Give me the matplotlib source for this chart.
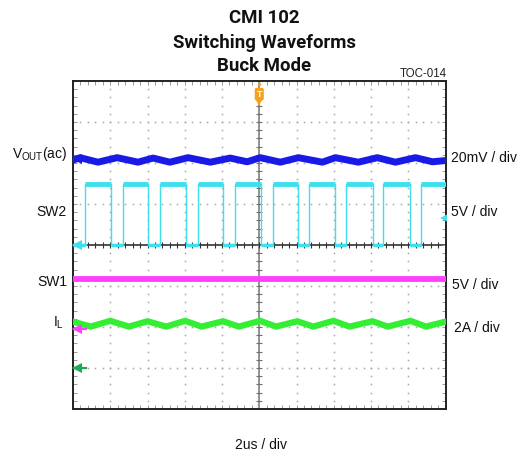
import matplotlib
matplotlib.use('Agg')
import matplotlib.pyplot as plt
import numpy as np

# scope screen: 10 div x 2us, 8 div vertical, trace values in screen divisions
t_end = 20.0

# SW2 (cyan) switching node, edge times in us
sw2_rise = [0.65, 2.69, 4.68, 6.72, 8.71, 10.75, 12.69, 14.68, 16.67, 18.71]
sw2_fall = [2.04, 4.03, 6.08, 8.06, 10.11, 12.10, 14.09, 16.13, 18.12]
sw2_high = 1.49
sw2_low = 0.0

# VOUT ripple (blue), peaks and troughs
vout_t = [0, 0.38, 1.34, 2.37, 3.49, 4.30, 5.20, 6.18, 7.37, 8.44, 9.35, 10.05,
          11.13, 12.10, 13.39, 14.09, 15.32, 16.34, 17.31, 18.39, 19.30, 20]
vout_v = [2.07, 2.13, 2.02, 2.13, 2.02, 2.12, 2.02, 2.13, 2.02, 2.12, 2.03, 2.13,
          2.02, 2.13, 2.02, 2.13, 2.02, 2.13, 2.02, 2.13, 2.03, 2.06]

# SW1 (magenta) flat
sw1_t = [0, 20]
sw1_v = [-0.83, -0.83]

# inductor current (green)
il_t = [0, 0.95, 2.00, 3.00, 4.00, 5.00, 6.02, 6.90, 8.06, 8.90, 10.05, 10.90,
        12.04, 12.90, 13.98, 14.85, 16.08, 16.90, 18.12, 18.95, 20]
il_v = [-1.87, -1.99, -1.85, -1.99, -1.86, -1.99, -1.85, -1.99, -1.86, -1.99, -1.85, -1.99,
        -1.86, -1.99, -1.85, -1.99, -1.86, -1.99, -1.85, -1.99, -1.87]

# channel ground markers (left edge)
gnd_levels = [2.1, 0.0, -2.05, -3.0]
gnd_colors = ['#1a1ae6', '#3ee0ee', '#ff40ff', '#1faa55']
trig_level = 0.66

left_labels = ['V$_{\\mathrm{OUT}}$(ac)', 'SW2', 'SW1', 'I$_{\\mathrm{L}}$']
right_labels = ['20mV / div', '5V / div', '5V / div', '2A / div']

plt.rcParams['font.family'] = ['Liberation Sans', 'DejaVu Sans']
plt.rcParams['mathtext.fontset'] = 'custom'
plt.rcParams['mathtext.rm'] = 'Liberation Sans'

W, H = 523, 458
fig = plt.figure(figsize=(W / 100, H / 100), dpi=100)
ax = fig.add_axes([73 / W, 1 - 409 / H, (445.5 - 73) / W, (409 - 81) / H])
ax.set_xlim(0, t_end)
ax.set_ylim(-4, 4)


def px(x, y):
    return x / W, 1 - y / H


# graticule
minor_x = np.arange(0, 20.001, 0.4)
minor_y = np.arange(-4, 4.001, 0.2)
for gx in np.arange(2, 20, 2):
    if gx == 10:
        continue
    ax.plot(np.full_like(minor_y, gx), minor_y, ls='none', marker='s', ms=1.1,
            mew=0, color='#a8a8a8', zorder=1)
for gy in np.arange(-3, 4, 1):
    if gy == 0:
        continue
    ax.plot(minor_x, np.full_like(minor_x, gy), ls='none', marker='s', ms=1.1,
            mew=0, color='#a8a8a8', zorder=1)
ax.axvline(10, color='#808080', lw=1.2, zorder=1)
ax.axhline(0, color='#333333', lw=1.2, zorder=1)
ax.plot(np.full_like(minor_y, 10), minor_y, ls='none', marker='_', ms=4, mew=0.8,
        color='#707070', zorder=1)
ax.plot(minor_x, np.zeros_like(minor_x), ls='none', marker='|', ms=4, mew=0.8,
        color='#333333', zorder=1)

ax.set_xticks(np.arange(0, 21, 2))
ax.set_yticks(np.arange(-4, 5, 1))
ax.set_xticks(minor_x, minor=True)
ax.set_yticks(minor_y, minor=True)
ax.tick_params(which='both', direction='in', length=3, width=0.7, color='#999999',
               top=True, right=True, labelbottom=False, labelleft=False)
for s in ax.spines.values():
    s.set_linewidth(1.4)
    s.set_color('#222222')

# traces
ax.plot(vout_t, vout_v, color='#1a1ae6', lw=5, solid_joinstyle='round', zorder=3)

edges = sorted(sw2_rise + sw2_fall)
levels = [sw2_low]
for e in edges:
    levels.append(sw2_high if e in sw2_rise else sw2_low)
ax.step([0] + edges + [t_end], levels + [levels[-1]], where='post',
        color='#3ee0ee', lw=1.0, zorder=3)
ax.hlines([sw2_high] * len(sw2_rise), sw2_rise, sw2_fall + [t_end],
          color='#3ee0ee', lw=3.5, zorder=3)
ax.hlines([sw2_low] * len(sw2_rise), [0] + sw2_fall, sw2_rise,
          color='#3ee0ee', lw=2.5, zorder=3)

ax.plot(sw1_t, sw1_v, color='#ff40ff', lw=4.2, zorder=3)
ax.plot(il_t, il_v, color='#33ee33', lw=4.5, solid_joinstyle='round', zorder=3)

# ground markers and trigger markers
for lv, c in zip(gnd_levels, gnd_colors):
    ax.plot([0.05, 0.7], [lv, lv], color=c, lw=1.6, zorder=4, clip_on=False)
    ax.plot(0.2, lv, marker='<', ms=7, color=c, mew=0, zorder=4, clip_on=False)
ax.plot(19.9, trig_level, marker='<', ms=6, color='#3ee0ee', mew=0, zorder=4)
ax.plot(10, 3.93, marker='o', ms=2.5, color='#f5a020', mew=0, zorder=5)
ax.plot(10, 3.47, marker='v', ms=5, color='#f5a020', mew=0, zorder=5)
ax.text(10, 3.68, 'T', ha='center', va='center', fontsize=6.5, color='white',
        fontweight='bold', zorder=6,
        bbox=dict(boxstyle='round,pad=0.12', fc='#f5a020', ec='#f5a020'))

# titles and labels
for txt, yb in zip(['CMI 102', 'Switching Waveforms', 'Buck Mode'], [23, 48, 71]):
    fig.text(*px(264.5, yb), txt, ha='center', va='baseline', fontsize=13.4,
             fontweight='bold', family=['Roboto', 'Liberation Sans'], color='#111111')
fig.text(*px(447, 77), 'TOC-014', ha='right', va='baseline', fontsize=8.3, color='#222222')

for txt, (x, yb) in zip(left_labels, [(67, 158), (67, 216), (67, 286), (64, 327)]):
    fig.text(*px(x, yb), txt, ha='right', va='baseline', fontsize=10, color='#111111')
for txt, (x, yb) in zip(right_labels, [(451, 162), (451, 216), (452, 289), (454, 332)]):
    fig.text(*px(x, yb), txt, ha='left', va='baseline', fontsize=10, color='#111111')
fig.text(*px(261, 449), '2us / div', ha='center', va='baseline', fontsize=10, color='#111111')

fig.savefig('out.png', dpi=100)
